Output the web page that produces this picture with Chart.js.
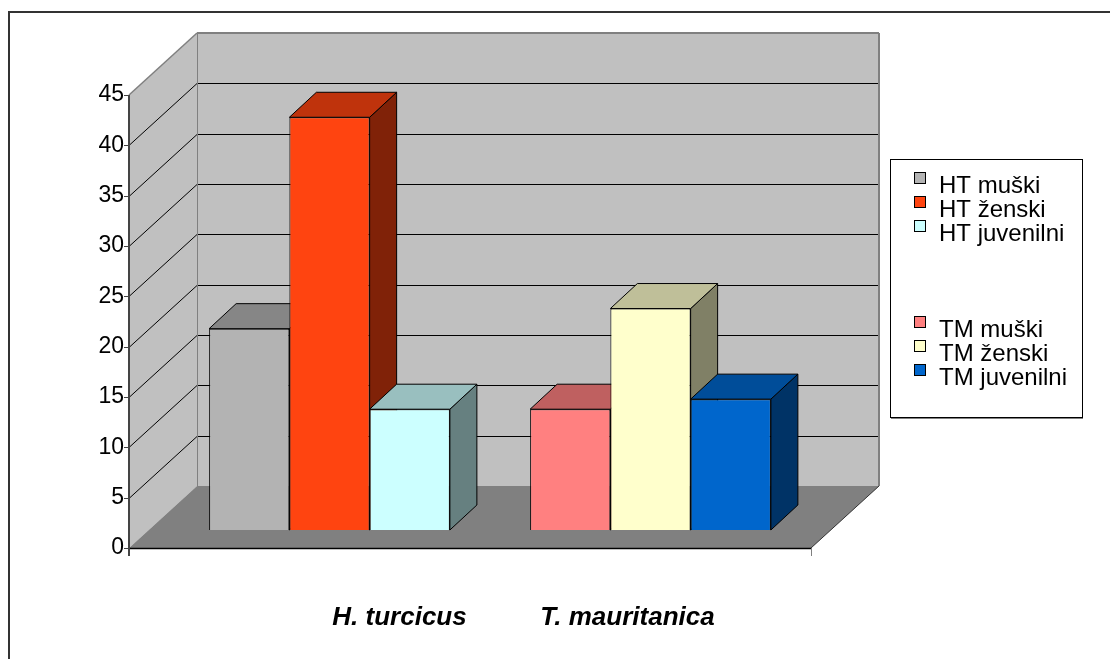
<!DOCTYPE html>
<html>
<head>
<meta charset="utf-8">
<title>H. turcicus / T. mauritanica</title>
<script src="https://cdn.jsdelivr.net/npm/chart.js@4.4.1/dist/chart.umd.min.js"></script>
<style>
  html, body { margin: 0; padding: 0; background: #fff; }
  #wrap { width: 1110px; height: 659px; }
</style>
</head>
<body>
<div id="wrap"><canvas id="chart" width="1110" height="659"></canvas></div>
<script>
// podaci
const categories = ['H. turcicus', 'T. mauritanica'];
const seriesNames = ['HT muški', 'HT ženski', 'HT juvenilni', 'TM muški', 'TM ženski', 'TM juvenilni'];
const htValues = [20, 41, 12];
const tmValues = [12, 22, 13];
const yTicks = [0, 5, 10, 15, 20, 25, 30, 35, 40, 45];
const seriesColors = ['#b3b3b3', '#ff4410', '#ccffff', '#ff8080', '#ffffcc', '#0066cc'];

// 3D izgled (pomaci u pikselima)
const FRONT = { dx: 20, dy: -18 };        // prednja ploha stupaca u odnosu na os
const BAR_DEPTH = { dx: 27, dy: -25 };    // dubina stupca
const FLOOR_DEPTH = { dx: 68, dy: -62 };  // dubina poda / zidova
const FONT = '"Liberation Sans", Arial, sans-serif';
const LABEL_SHIFT = [70, -23];
const LEGEND = { x: 890, y: 159, w: 192, h: 258, row: 24, firstTop: 172, gapRows: 3 };

function shade(hex, f) {
  const n = parseInt(hex.slice(1), 16);
  const r = Math.round(((n >> 16) & 255) * f);
  const g = Math.round(((n >> 8) & 255) * f);
  const b = Math.round((n & 255) * f);
  return `rgb(${r},${g},${b})`;
}

function poly(ctx, pts, fill, stroke) {
  ctx.beginPath();
  pts.forEach((p, i) => i ? ctx.lineTo(p[0], p[1]) : ctx.moveTo(p[0], p[1]));
  ctx.closePath();
  if (fill) { ctx.fillStyle = fill; ctx.fill(); }
  if (stroke) { ctx.strokeStyle = stroke; ctx.stroke(); }
}

function seg(ctx, x1, y1, x2, y2, color, w) {
  ctx.beginPath();
  ctx.moveTo(x1, y1);
  ctx.lineTo(x2, y2);
  ctx.strokeStyle = color;
  ctx.lineWidth = w || 1;
  ctx.stroke();
}

const scene3d = {
  id: 'scene3d',
  beforeDraw(chart) {
    const { ctx, chartArea: a, scales: { y } } = chart;
    const D = FLOOR_DEPTH;
    const fl = a.left - FRONT.dx, fr = a.right + FRONT.dx;
    const y0 = y.getPixelForValue(y.min), yTop = y.getPixelForValue(y.max);
    ctx.save();
    ctx.fillStyle = '#fff';
    ctx.fillRect(0, 0, chart.width, chart.height);

    // okvir
    ctx.beginPath();
    ctx.moveTo(9, chart.height);
    ctx.lineTo(9, 12);
    ctx.lineTo(chart.width, 12);
    ctx.strokeStyle = '#333';
    ctx.lineWidth = 2;
    ctx.stroke();

    // zidovi i pod
    poly(ctx, [[fl, y0], [fl, yTop], [fl + D.dx, yTop + D.dy], [fl + D.dx, y0 + D.dy]], '#c0c0c0');
    poly(ctx, [[fl + D.dx, yTop + D.dy], [fr + D.dx, yTop + D.dy], [fr + D.dx, y0 + D.dy], [fl + D.dx, y0 + D.dy]], '#c0c0c0');
    poly(ctx, [[fl, y0], [fr, y0], [fr + D.dx, y0 + D.dy], [fl + D.dx, y0 + D.dy]], '#808080');

    // mreža
    y.ticks.forEach(t => {
      if (t.value <= y.min || t.value >= y.max) return;
      const py = Math.round(y.getPixelForValue(t.value)) + 0.5;
      ctx.beginPath();
      ctx.moveTo(fl, py);
      ctx.lineTo(fl + D.dx, py + D.dy);
      ctx.lineTo(fr + D.dx, py + D.dy);
      ctx.strokeStyle = '#000';
      ctx.lineWidth = 1;
      ctx.stroke();
    });

    // rubovi zidova
    seg(ctx, fl, yTop, fl + D.dx, yTop + D.dy, '#808080', 1.5);
    seg(ctx, fl + D.dx, yTop + D.dy, fr + D.dx, yTop + D.dy, '#808080', 2);
    seg(ctx, fr + D.dx, yTop + D.dy, fr + D.dx, y0 + D.dy, '#808080', 2);
    seg(ctx, fl + D.dx + 0.5, yTop + D.dy, fl + D.dx + 0.5, y0 + D.dy, '#808080', 1);

    // pod i os
    seg(ctx, fl, y0 + 0.5, fr, y0 + 0.5, '#000', 1.5);
    seg(ctx, fr, y0, fr + D.dx, y0 + D.dy, '#333', 1);
    seg(ctx, fr + 0.5, y0, fr + 0.5, y0 + 8, '#808080', 1);
    seg(ctx, fl, yTop, fl, y0 + 8, '#444', 2);
    y.ticks.forEach(t => {
      const py = Math.round(y.getPixelForValue(t.value)) + 0.5;
      seg(ctx, fl - 5, py, fl, py, '#444', 1);
    });
    ctx.restore();
  },
  beforeDatasetsDraw(chart) {
    const ctx = chart.ctx;
    ctx.save();
    ctx.translate(FRONT.dx, FRONT.dy);
    const boxes = [];
    chart.data.datasets.forEach((ds, di) => {
      chart.getDatasetMeta(di).data.forEach((bar, i) => {
        if (ds.data[i] == null) return;
        boxes.push({ p: bar.getProps(['x', 'y', 'base', 'width'], true), color: ds.backgroundColor });
      });
    });
    boxes.sort((a, b) => a.p.x - b.p.x);
    ctx.lineWidth = 1;
    ctx.lineJoin = 'round';
    const B = BAR_DEPTH;
    boxes.forEach(({ p, color }) => {
      const l = p.x - p.width / 2, r = p.x + p.width / 2, t = p.y, b = p.base;
      // bočna ploha
      poly(ctx, [[r, t], [r + B.dx, t + B.dy], [r + B.dx, b + B.dy], [r, b]], shade(color, 0.5), '#000');
      // gornja ploha
      poly(ctx, [[l, t], [l + B.dx, t + B.dy], [r + B.dx, t + B.dy], [r, t]], shade(color, 0.75), '#000');
    });
  },
  afterDatasetsDraw(chart) {
    chart.ctx.restore();
  },
  afterDraw(chart) {
    const { ctx, scales: { x } } = chart;
    ctx.save();

    // kategorije
    ctx.font = `italic bold 26px ${FONT}`;
    ctx.fillStyle = '#000';
    ctx.textAlign = 'center';
    ctx.textBaseline = 'alphabetic';
    categories.forEach((c, i) => {
      ctx.fillText(c, x.getPixelForValue(i) + FRONT.dx + LABEL_SHIFT[i], 625);
    });

    // legenda
    const L = LEGEND;
    ctx.fillStyle = '#fff';
    ctx.fillRect(L.x, L.y, L.w, L.h);
    ctx.strokeStyle = '#000';
    ctx.lineWidth = 1;
    ctx.strokeRect(L.x + 0.5, L.y + 0.5, L.w, L.h);
    seg(ctx, L.x + 1, L.y + L.h + 1.5, L.x + L.w + 1, L.y + L.h + 1.5, '#808080', 1);
    ctx.font = `24px ${FONT}`;
    ctx.textAlign = 'left';
    chart.data.datasets.forEach((ds, i) => {
      const row = i < 3 ? i : i + L.gapRows;
      const top = L.firstTop + row * L.row;
      ctx.fillStyle = ds.backgroundColor;
      ctx.fillRect(L.x + 24, top, 12, 12);
      ctx.strokeStyle = '#000';
      ctx.strokeRect(L.x + 24.5, top + 0.5, 11, 11);
      ctx.fillStyle = '#000';
      ctx.fillText(ds.label, L.x + 49, top + 21);
    });
    ctx.restore();
  }
};

const datasets = seriesNames.map((name, i) => ({
  label: name,
  data: i < 3 ? [htValues[i], null] : [null, tmValues[i - 3]],
  backgroundColor: seriesColors[i],
  borderColor: '#000',
  borderWidth: 1,
  skipNull: true,
  categoryPercentage: 0.75,
  barPercentage: 1,
  clip: false
}));

new Chart(document.getElementById('chart'), {
  type: 'bar',
  data: { labels: categories, datasets: datasets },
  options: {
    responsive: false,
    devicePixelRatio: 1,
    animation: false,
    events: [],
    layout: { padding: { left: 0, right: 319, top: 95, bottom: 111 } },
    plugins: {
      legend: { display: false },
      tooltip: { enabled: false }
    },
    scales: {
      x: { display: false, offset: true },
      y: {
        min: 0,
        max: 45,
        afterBuildTicks: scale => { scale.ticks = yTicks.map(v => ({ value: v })); },
        afterFit: scale => { scale.width = 149; },
        grid: { display: false, drawTicks: false },
        border: { display: false },
        ticks: {
          padding: 25,
          color: '#000',
          font: { family: FONT, size: 23 }
        }
      }
    }
  },
  plugins: [scene3d]
});
</script>
</body>
</html>
